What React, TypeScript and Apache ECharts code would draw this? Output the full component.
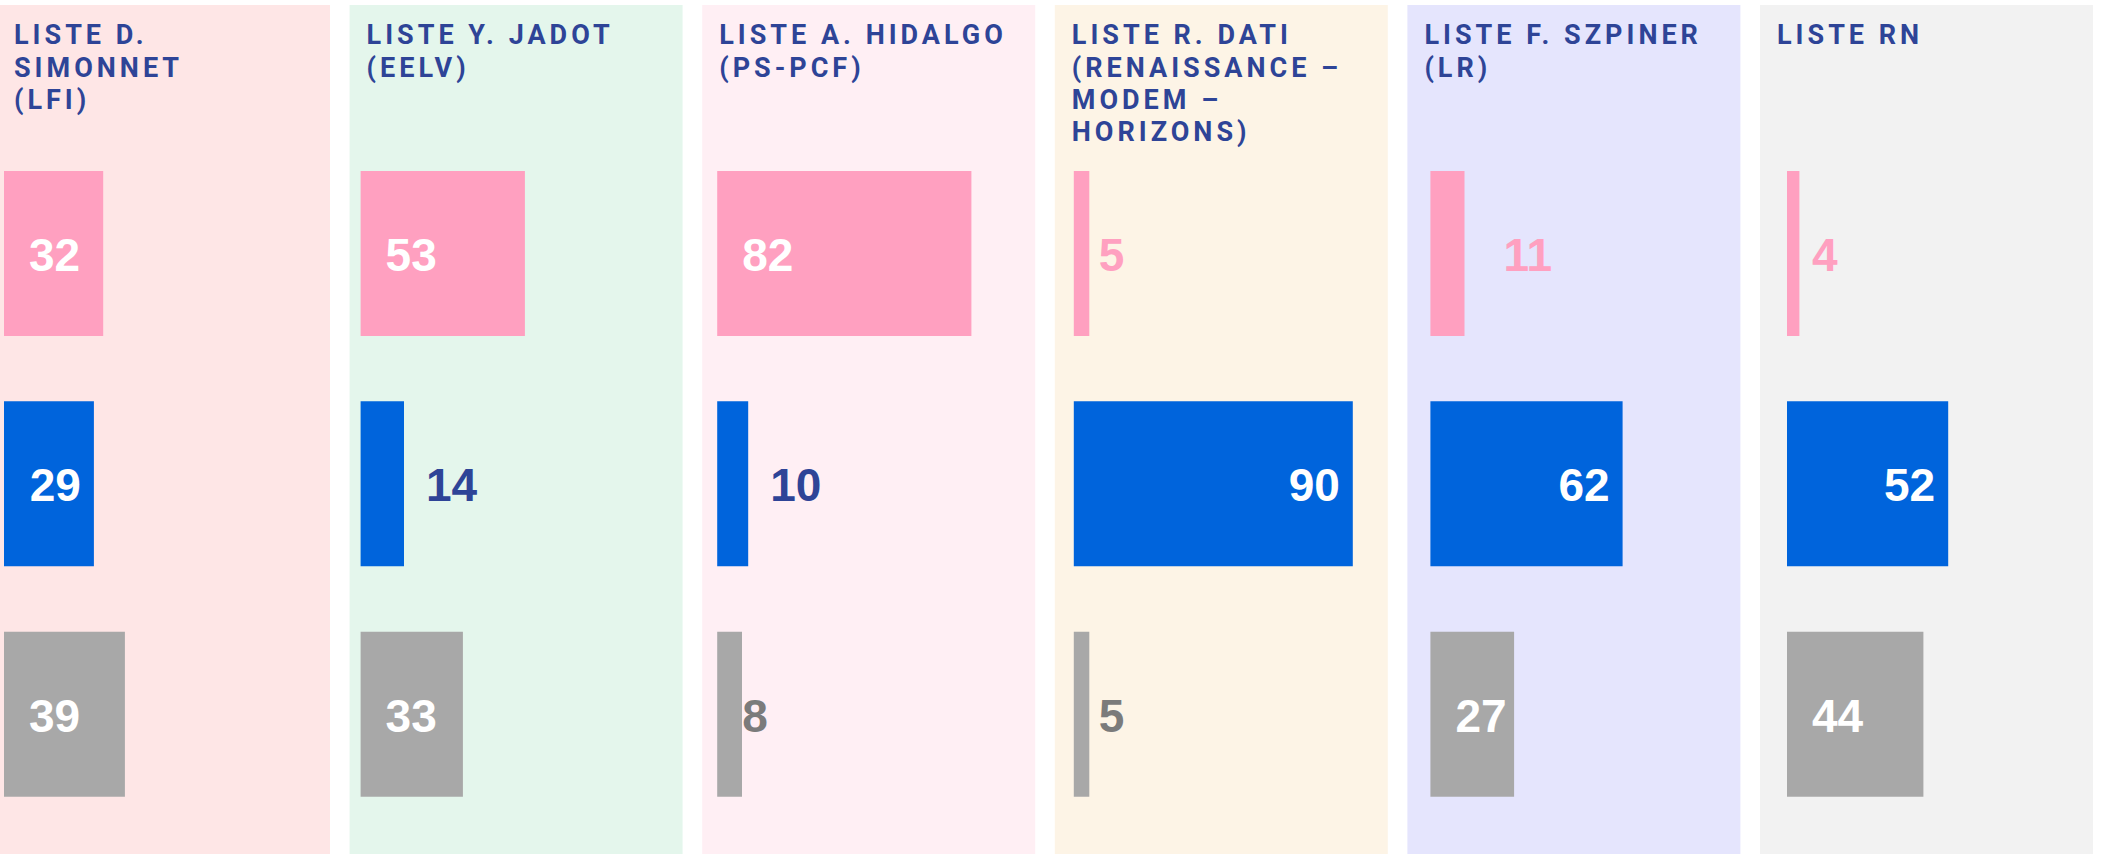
import React, { useEffect, useRef } from "react";
import * as echarts from "echarts";

// ---- Data ----
const listNames = [
  "LISTE D.\nSIMONNET\n(LFI)",
  "LISTE Y. JADOT\n(EELV)",
  "LISTE A. HIDALGO\n(PS-PCF)",
  "LISTE R. DATI\n(RENAISSANCE –\nMODEM –\nHORIZONS)",
  "LISTE F. SZPINER\n(LR)",
  "LISTE RN",
];
const rowNames = ["Rose", "Bleu", "Gris"];
const pinkValues = [32, 53, 82, 5, 11, 4];
const blueValues = [29, 14, 10, 90, 62, 52];
const greyValues = [39, 33, 8, 5, 27, 44];
const axisMax = 100;

// ---- Layout / style ----
const W = 2101;
const H = 854;
const PANEL_LEFT0 = -3;
const PANEL_STEP = 352.6;
const PANEL_W = 333;
const PANEL_TOP = 5;
const BAR_LEFT0 = 4;
const BAR_STEP = 356.6;
const PX_PER_UNIT = 3.1;
const GRID_TOP = 138.2;
const ROW_H = 230.4;
const BAR_H = 165;
const FONT = 46;
const LEFT_PAD = 25;
const panelColors = ["#FEE6E6", "#E4F6EC", "#FFEFF4", "#FDF4E6", "#E5E5FD", "#F2F2F2"];
const rowColors = ["#FFA0C0", "#0064DC", "#A8A8A8"];
const outsideColors = ["#FFA0C0", "#2E4497", "#7B7B7B"];
const headerColor = "#2E4497";
const labelFont = "'Liberation Sans', Arial, sans-serif";

function labelFor(row: number, v: number) {
  const barW = v * PX_PER_UNIT;
  const textW = String(v).length * 0.556 * FONT;
  const base: any = {
    show: true,
    fontSize: FONT,
    fontWeight: "bold",
    fontFamily: labelFont,
    formatter: "{c}",
    offset: [0, 1.5],
  };
  if (row === 1) {
    if (barW >= textW + 13 + 20) return { ...base, position: "insideRight", distance: 13, color: "#FFFFFF" };
    return { ...base, position: "right", distance: 22, color: outsideColors[1] };
  }
  if (barW >= LEFT_PAD + textW) return { ...base, position: "insideLeft", distance: LEFT_PAD, color: "#FFFFFF" };
  if (barW <= LEFT_PAD + 2) return { ...base, position: "insideLeft", distance: LEFT_PAD, color: outsideColors[row] };
  return { ...base, position: "right", distance: 39, color: outsideColors[row] };
}

export default function App() {
  const ref = useRef<HTMLDivElement>(null);
  useEffect(() => {
    if (!ref.current) return;
    const chart = echarts.init(ref.current, null, { renderer: "svg" });
    const grids: any[] = [];
    const xAxes: any[] = [];
    const yAxes: any[] = [];
    const series: any[] = [];
    const graphics: any[] = [];
    listNames.forEach((name, i) => {
      const panelLeft = PANEL_LEFT0 + PANEL_STEP * i;
      graphics.push({
        type: "rect",
        z: -10,
        shape: { x: panelLeft, y: PANEL_TOP, width: PANEL_W, height: H - PANEL_TOP },
        style: { fill: panelColors[i] },
        silent: true,
      });
      graphics.push({
        type: "text",
        z: 5,
        x: panelLeft + 17,
        y: 19.3,
        style: {
          text: name,
          fill: headerColor,
          fontFamily: "Roboto",
          fontWeight: "bold",
          fontSize: 27,
          lineHeight: 32.3,
          verticalAlign: "top",
          align: "left",
        },
      });
      grids.push({
        left: BAR_LEFT0 + BAR_STEP * i,
        top: GRID_TOP,
        width: axisMax * PX_PER_UNIT,
        height: ROW_H * 3,
        outerBoundsMode: "none",
        containLabel: false,
      });
      xAxes.push({ type: "value", gridIndex: i, min: 0, max: axisMax, show: false });
      yAxes.push({ type: "category", gridIndex: i, data: rowNames, inverse: true, show: false });
      const vals = [pinkValues[i], blueValues[i], greyValues[i]];
      series.push({
        type: "bar",
        name: name.replace(/\n/g, " "),
        xAxisIndex: i,
        yAxisIndex: i,
        barWidth: BAR_H,
        data: vals.map((v, r) => ({
          value: v,
          itemStyle: { color: rowColors[r] },
          label: labelFor(r, v),
        })),
      });
    });
    chart.setOption({
      animation: false,
      backgroundColor: "#FFFFFF",
      grid: grids,
      xAxis: xAxes,
      yAxis: yAxes,
      series,
      graphic: { elements: graphics },
    });
    return () => chart.dispose();
  }, []);
  return (
    <>
      <style>{`text[style*="Roboto"]{letter-spacing:4px;}`}</style>
      <div
        ref={ref}
        style={{ position: "fixed", left: 0, top: 0, width: W, height: H }}
      />
    </>
  );
}
